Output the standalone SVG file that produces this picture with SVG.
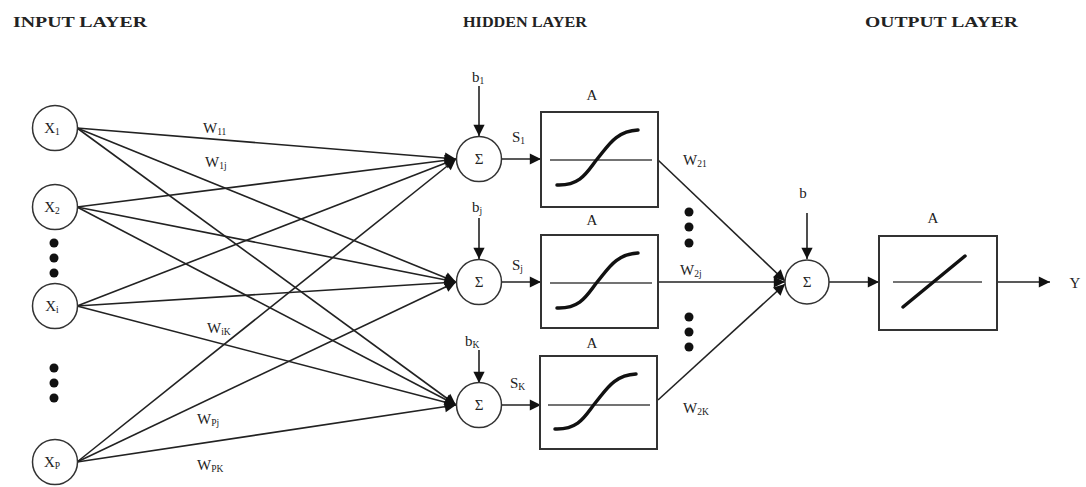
<svg xmlns="http://www.w3.org/2000/svg" width="1086" height="487" viewBox="0 0 1086 487">
<style>
text{font-family:"Liberation Serif","Times New Roman",serif;fill:#222}
.title{font-weight:bold;font-size:14px}
.lbl{font-size:15px}
.sub{font-size:9.5px}
.node{fill:#fff;stroke:#333;stroke-width:1.5}
.box{fill:#fff;stroke:#333;stroke-width:2}
.conn{stroke:#222;stroke-width:1.6;fill:none}
.curve{stroke:#111;stroke-width:3.5;fill:none;stroke-linecap:round}
.axis{stroke:#444;stroke-width:1.5}
.dot{fill:#111}
</style>
<defs>
<marker id="ah" viewBox="0 0 10 10" refX="10" refY="5" markerWidth="7" markerHeight="7" markerUnits="userSpaceOnUse" orient="auto" style="overflow:visible">
<path d="M0,0 L10,5 L0,10 z" fill="#111" transform="scale(1.6) translate(-3.75,-1.875)"/>
</marker>
</defs>
<rect width="1086" height="487" fill="#fff"/>
<g id="titles">
<text class="title" x="13" y="27" textLength="134" lengthAdjust="spacingAndGlyphs">INPUT LAYER</text>
<text class="title" x="463" y="27" textLength="124" lengthAdjust="spacingAndGlyphs">HIDDEN LAYER</text>
<text class="title" x="865" y="27" textLength="153" lengthAdjust="spacingAndGlyphs">OUTPUT LAYER</text>
</g>
<g id="connectors">
<line class="conn" x1="77" y1="128" x2="456" y2="159" marker-end="url(#ah)"/>
<line class="conn" x1="77" y1="128" x2="456" y2="282" marker-end="url(#ah)"/>
<line class="conn" x1="77" y1="128" x2="456" y2="405" marker-end="url(#ah)"/>
<line class="conn" x1="77" y1="207" x2="456" y2="159" marker-end="url(#ah)"/>
<line class="conn" x1="77" y1="207" x2="456" y2="282" marker-end="url(#ah)"/>
<line class="conn" x1="77" y1="207" x2="456" y2="405" marker-end="url(#ah)"/>
<line class="conn" x1="77" y1="306" x2="456" y2="159" marker-end="url(#ah)"/>
<line class="conn" x1="77" y1="306" x2="456" y2="282" marker-end="url(#ah)"/>
<line class="conn" x1="77" y1="306" x2="456" y2="405" marker-end="url(#ah)"/>
<line class="conn" x1="77" y1="462" x2="456" y2="159" marker-end="url(#ah)"/>
<line class="conn" x1="77" y1="462" x2="456" y2="282" marker-end="url(#ah)"/>
<line class="conn" x1="77" y1="462" x2="456" y2="405" marker-end="url(#ah)"/>
<line class="conn" x1="479" y1="86" x2="479" y2="136" marker-end="url(#ah)"/>
<line class="conn" x1="479" y1="218" x2="479" y2="259" marker-end="url(#ah)"/>
<line class="conn" x1="479" y1="350" x2="479" y2="383" marker-end="url(#ah)"/>
<line class="conn" x1="807" y1="213" x2="807" y2="259" marker-end="url(#ah)"/>
<line class="conn" x1="501" y1="159" x2="541" y2="159" marker-end="url(#ah)"/>
<line class="conn" x1="501" y1="282" x2="541" y2="282" marker-end="url(#ah)"/>
<line class="conn" x1="501" y1="405" x2="541" y2="405" marker-end="url(#ah)"/>
<line class="conn" x1="658" y1="160" x2="785" y2="281" marker-end="url(#ah)"/>
<line class="conn" x1="658" y1="282" x2="785" y2="282" marker-end="url(#ah)"/>
<line class="conn" x1="658" y1="400" x2="785" y2="284" marker-end="url(#ah)"/>
<line class="conn" x1="829" y1="282" x2="879" y2="282" marker-end="url(#ah)"/>
<line class="conn" x1="997" y1="282" x2="1050" y2="282" marker-end="url(#ah)"/>
</g>
<g id="input-x1"><circle class="node" cx="55" cy="128" r="22.5"/><text class="lbl" x="52" y="133" text-anchor="middle">X<tspan class="sub" dy="2">1</tspan></text></g>
<g id="input-x2"><circle class="node" cx="55" cy="207" r="22.5"/><text class="lbl" x="52" y="212" text-anchor="middle">X<tspan class="sub" dy="2">2</tspan></text></g>
<g id="input-xi"><circle class="node" cx="55" cy="306" r="22.5"/><text class="lbl" x="52" y="311" text-anchor="middle">X<tspan class="sub" dy="2">i</tspan></text></g>
<g id="input-xp"><circle class="node" cx="55" cy="462" r="22.5"/><text class="lbl" x="52" y="467" text-anchor="middle">X<tspan class="sub" dy="2">P</tspan></text></g>
<g id="input-dots">
<circle class="dot" cx="54" cy="243" r="4.5"/><circle class="dot" cx="54" cy="258" r="4.5"/><circle class="dot" cx="54" cy="273" r="4.5"/>
<circle class="dot" cx="54" cy="368" r="4.5"/><circle class="dot" cx="54" cy="383" r="4.5"/><circle class="dot" cx="54" cy="398" r="4.5"/>
</g>
<g id="weights-in">
<text class="lbl" x="203" y="133">W<tspan class="sub" dy="2">11</tspan></text>
<text class="lbl" x="205" y="167">W<tspan class="sub" dy="2">1j</tspan></text>
<text class="lbl" x="207" y="333">W<tspan class="sub" dy="2">iK</tspan></text>
<text class="lbl" x="197" y="424">W<tspan class="sub" dy="2">Pj</tspan></text>
<text class="lbl" x="197" y="470">W<tspan class="sub" dy="2">PK</tspan></text>
</g>
<g id="sum-1"><circle class="node" cx="479" cy="159" r="22.5"/><text class="lbl" x="479" y="164" text-anchor="middle">Σ</text>
<text class="lbl" x="472" y="82">b<tspan class="sub" dy="2">1</tspan></text>
<text class="lbl" x="512" y="142">S<tspan class="sub" dy="2">1</tspan></text></g>
<g id="sum-j"><circle class="node" cx="479" cy="282" r="22.5"/><text class="lbl" x="479" y="287" text-anchor="middle">Σ</text>
<text class="lbl" x="472" y="212">b<tspan class="sub" dy="2">j</tspan></text>
<text class="lbl" x="512" y="270">S<tspan class="sub" dy="2">j</tspan></text></g>
<g id="sum-k"><circle class="node" cx="479" cy="405" r="22.5"/><text class="lbl" x="465" y="346">b<tspan class="sub" dy="2">K</tspan></text>
<text class="lbl" x="479" y="410" text-anchor="middle">Σ</text>
<text class="lbl" x="510" y="388">S<tspan class="sub" dy="2">K</tspan></text></g>
<g id="act-1"><text class="lbl" x="592" y="100" text-anchor="middle">A</text>
<rect class="box" x="541" y="112" width="117" height="95"/>
<line class="axis" x1="550" y1="160" x2="652" y2="160"/>
<path class="curve" d="M557,185 C582,186 588,170 598,158 C608,146 616,131 638,130"/></g>
<g id="act-j"><text class="lbl" x="592" y="225" text-anchor="middle">A</text>
<rect class="box" x="541" y="235" width="117" height="93"/>
<line class="axis" x1="550" y1="283" x2="652" y2="283"/>
<path class="curve" d="M557,308 C582,309 588,293 598,281 C608,269 616,254 638,253"/></g>
<g id="act-k"><text class="lbl" x="592" y="348" text-anchor="middle">A</text>
<rect class="box" x="540" y="356" width="117" height="93"/>
<line class="axis" x1="548" y1="405" x2="650" y2="405"/>
<path class="curve" d="M555,429 C580,430 586,414 596,402 C606,390 614,375 636,374"/></g>
<g id="weights-out">
<text class="lbl" x="683" y="165">W<tspan class="sub" dy="2">21</tspan></text>
<text class="lbl" x="680" y="275">W<tspan class="sub" dy="2">2j</tspan></text>
<text class="lbl" x="683" y="413">W<tspan class="sub" dy="2">2K</tspan></text>
<circle class="dot" cx="689" cy="212" r="4.5"/><circle class="dot" cx="689" cy="227" r="4.5"/><circle class="dot" cx="689" cy="243" r="4.5"/>
<circle class="dot" cx="689" cy="317" r="4.5"/><circle class="dot" cx="689" cy="332" r="4.5"/><circle class="dot" cx="689" cy="347" r="4.5"/>
</g>
<g id="sum-out"><circle class="node" cx="807" cy="282" r="22"/><text class="lbl" x="807" y="287" text-anchor="middle">Σ</text>
<text class="lbl" x="803" y="198" text-anchor="middle">b</text></g>
<g id="act-out"><text class="lbl" x="933" y="223" text-anchor="middle">A</text>
<rect class="box" x="879" y="236" width="118" height="94"/>
<line class="axis" x1="893" y1="282" x2="982" y2="282"/>
<line class="curve" x1="903" y1="307" x2="965" y2="256"/></g>
<g id="output-y"><text class="lbl" x="1075" y="288" text-anchor="middle" font-size="16">Y</text></g>
</svg>
